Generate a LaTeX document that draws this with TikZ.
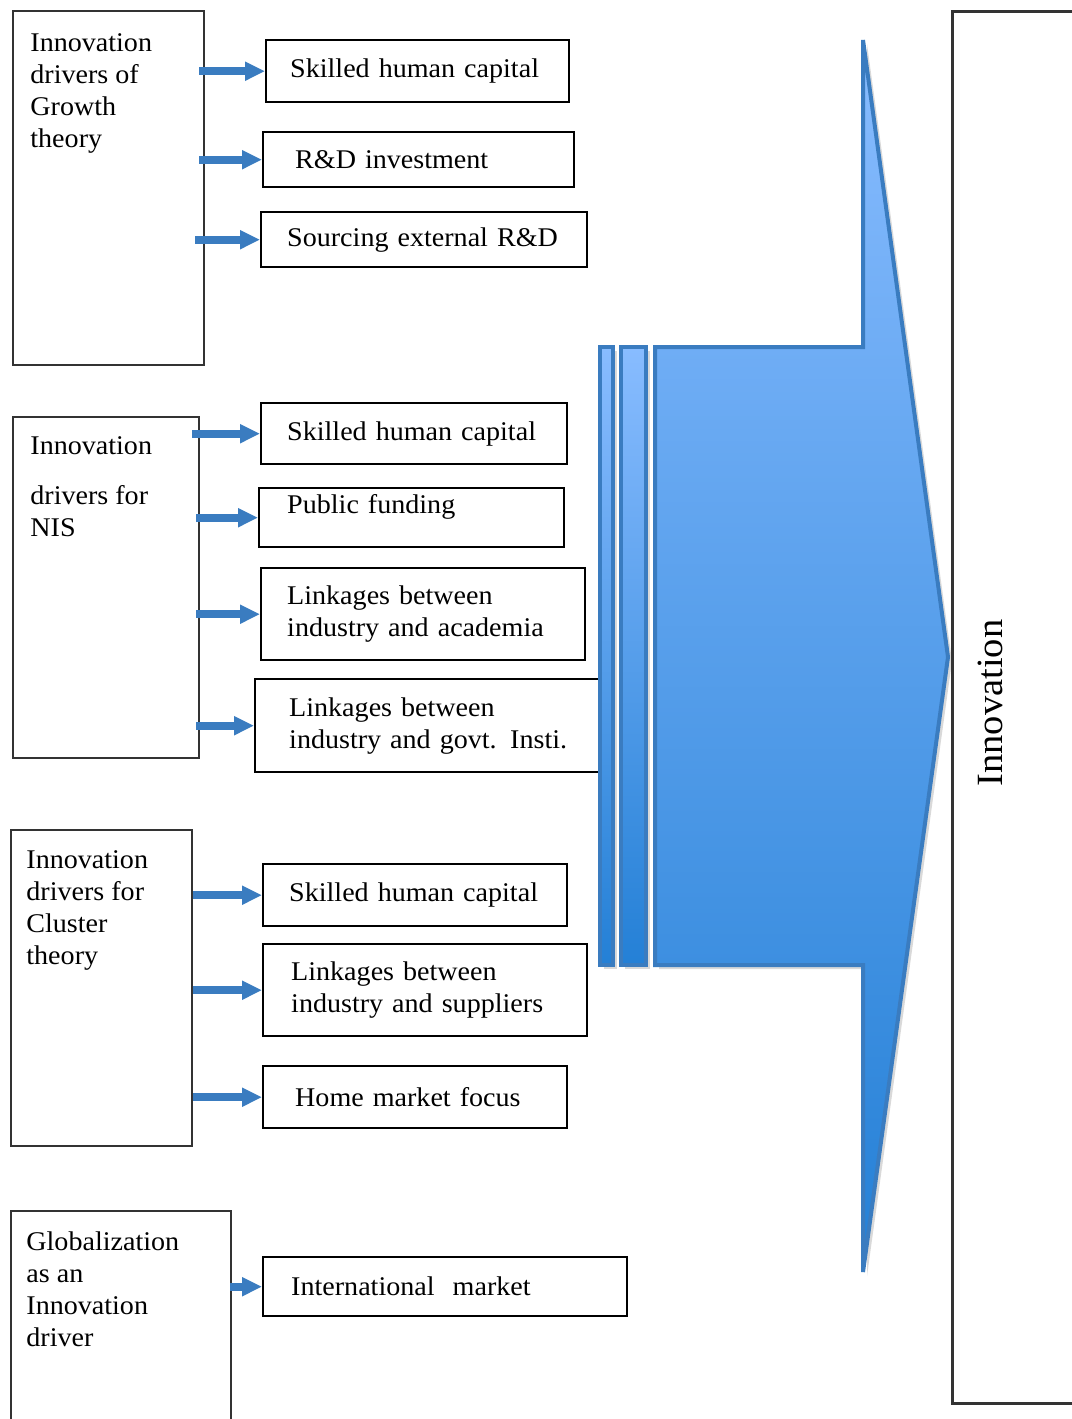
\documentclass[tikz,border=0pt]{standalone}
\usepackage{fontspec}
\setmainfont{Liberation Serif}[FakeStretch=1.04]
\usetikzlibrary{arrows.meta,shadows}
\definecolor{flowblue}{RGB}{58,124,192}
\definecolor{flowtop}{RGB}{136,188,255}
\definecolor{flowbot}{RGB}{36,128,214}

\begin{document}
\begin{tikzpicture}[x=0.5pt, y=-0.5pt,
		font=\fontsize{13.5}{16}\selectfont,
		driver/.style={draw=black!80, line width=1pt, anchor=north west, inner sep=0pt},
		drivertxt/.style={anchor=north west, align=left, inner sep=0pt},
		factor/.style={draw=black, line width=1.2pt, anchor=north west, align=left, inner xsep=13pt, inner ysep=0pt},
		feed/.style={draw=flowblue, line width=4pt, -{Triangle[length=10pt, width=9pt]}},
		bigflow/.style={draw=flowblue, line width=2pt, top color=flowtop, bottom color=flowbot,
			drop shadow={shadow xshift=2pt, shadow yshift=-2pt, fill=black, opacity=0.15}}]
	\useasboundingbox (0,0) rectangle (1071,1419);

	% driver boxes on the left
	\draw (12, 10) 		node[driver, minimum width=95.5pt, minimum height=177pt] 	(growth) 	{};
	\draw (12, 416) 	node[driver, minimum width=93pt, minimum height=170.5pt] 	(nis) 		{};
	\draw (10, 829) 	node[driver, minimum width=90.5pt, minimum height=158pt] 	(cluster) 	{};
	\draw (10, 1210) 	node[driver, minimum width=110pt, minimum height=115pt] 	(glob) 		{};
	\draw (30, 33) 		node[drivertxt] 	(growthtxt) 	{Innovation\\drivers of\\Growth\\theory};
	\draw (30, 436) 	node[drivertxt] 	(nistxt) 		{Innovation\\[9pt]drivers for\\NIS};
	\draw (26, 850) 	node[drivertxt] 	(clustertxt) 	{Innovation\\drivers for\\Cluster\\theory};
	\draw (26, 1231) 	node[drivertxt] 	(globtxt) 		{Globalization\\as an\\Innovation\\driver};

	% factor boxes
	\draw (265, 39) 	node[factor, inner xsep=12pt, text width=127.5pt, minimum height=31pt] 	(g1) 	{Skilled human capital};
	\draw (262, 131) 	node[factor, inner xsep=16pt, text width=123.5pt, minimum height=27.5pt] (g2) 	{R\&D investment};
	\draw (260, 211) 	node[factor, text width=137pt, minimum height=27.5pt] 	(g3) 	{Sourcing external R\&D};
	\draw (260, 402) 	node[factor, text width=127pt, minimum height=30.5pt] 	(n1) 	{Skilled human capital};
	\draw (258, 487) 	node[factor, inner xsep=14pt, text width=124.5pt, minimum height=29.5pt, text depth=14pt] 	(n2) 	{Public funding};
	\draw (260, 567) 	node[factor, text width=136pt, minimum height=46pt] 	(n3) 	{Linkages between\\industry and academia};
	\draw (254, 678) 	node[factor, inner xsep=17pt, text width=141pt, minimum height=46.5pt] 	(n4) 	{Linkages between\\industry and govt. Insti.};
	\draw (262, 863) 	node[factor, text width=126pt, minimum height=31pt] 	(c1) 	{Skilled human capital};
	\draw (262, 943) 	node[factor, inner xsep=14pt, text width=134pt, minimum height=46pt] 	(c2) 	{Linkages between\\industry and suppliers};
	\draw (262, 1065) 	node[factor, inner xsep=16pt, text width=120pt, minimum height=31pt] 	(c3) 	{Home market focus};
	\draw (262, 1256) 	node[factor, inner xsep=14pt, text width=154pt, minimum height=29.5pt] 	(m1) 	{International\ \ market};

	% feeding arrows
	\draw[feed] ([xshift=-3pt]growth.east |- g1.west) -- (g1.west);
	\draw[feed] ([xshift=-3pt]growth.east |- g2.west) -- (g2.west);
	\draw[feed] ([xshift=-5pt]growth.east |- g3.west) -- (g3.west);
	\draw[feed] ([xshift=-4pt]nis.east |- n1.west) -- (n1.west);
	\draw[feed] ([xshift=-2pt]nis.east |- n2.west) -- (n2.west);
	\draw[feed] ([xshift=-2pt]nis.east |- n3.west) -- (n3.west);
	\draw[feed] ([xshift=-2pt]nis.east |- n4.west) -- (n4.west);
	\draw[feed] (cluster.east |- c1.west) -- (c1.west);
	\draw[feed] (cluster.east |- c2.west) -- (c2.west);
	\draw[feed] (cluster.east |- c3.west) -- (c3.west);
	\draw[feed] ([xshift=-1pt]glob.east |- m1.west) -- (m1.west);

	% big arrow into innovation
	\draw[bigflow] (600, 347) rectangle (613, 965);
	\draw[bigflow] (621, 347) rectangle (646, 965);
	\draw[bigflow] (863, 40) -- (948, 657) -- (863, 1272) -- (863, 965) -- (655, 965) -- (655, 347) -- (863, 347) -- cycle;

	\draw (951, 10) 	node[driver, line width=1.5pt, minimum width=70pt, minimum height=696pt] 	(innov) 	{};
	\draw (990, 703) 	node[rotate=90, font=\fontsize{18.5}{22}\selectfont] 	(innovtxt) 	{Innovation};
\end{tikzpicture}
\end{document}
